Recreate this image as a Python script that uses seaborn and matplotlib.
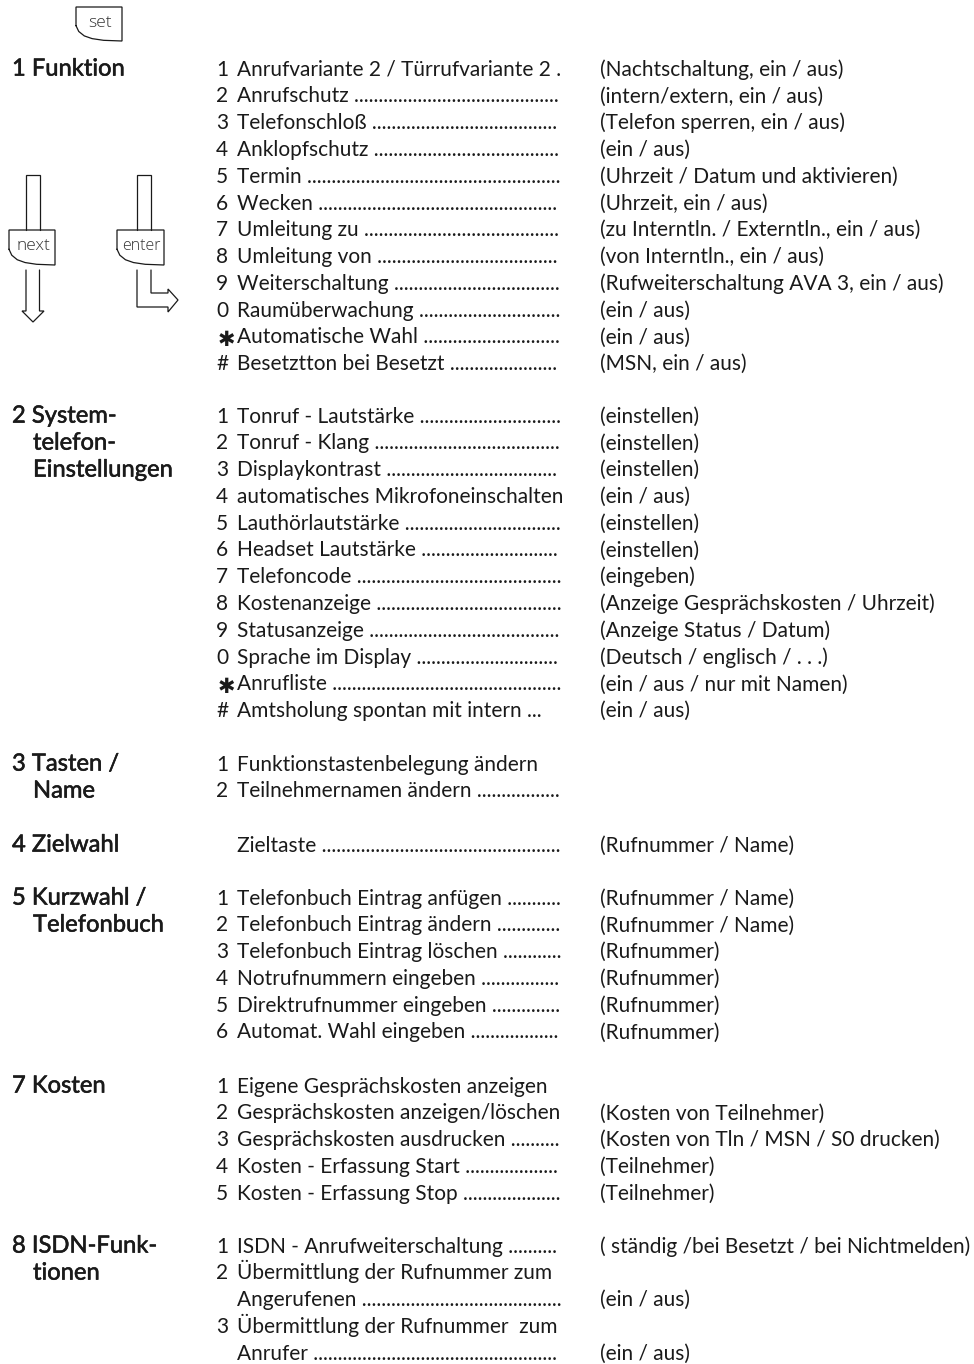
import matplotlib.pyplot as plt
import matplotlib.patheffects as pe
import seaborn as sns

# menu texts, one small list per section
funktion_head = ['1 Funktion']
funktion_nums = ['1', '2', '3', '4', '5', '6', '7', '8', '9', '0', '*', '#']
funktion_items = ['Anrufvariante 2 / Türrufvariante 2 .', 'Anrufschutz ~', 'Telefonschloß ~', 'Anklopfschutz ~',
                  'Termin ~', 'Wecken ~', 'Umleitung zu ~', 'Umleitung von ~', 'Weiterschaltung ~',
                  'Raumüberwachung ~', 'Automatische Wahl ~', 'Besetztton bei Besetzt ~']
funktion_opts = ['(Nachtschaltung, ein / aus)', '(intern/extern, ein / aus)', '(Telefon sperren, ein / aus)',
                 '(ein / aus)', '(Uhrzeit / Datum und aktivieren)', '(Uhrzeit, ein / aus)',
                 '(zu Interntln. / Externtln., ein / aus)', '(von Interntln., ein / aus)',
                 '(Rufweiterschaltung AVA 3, ein / aus)', '(ein / aus)', '(ein / aus)', '(MSN, ein / aus)']

system_head = ['2 System-', 'telefon-', 'Einstellungen']
system_nums = ['1', '2', '3', '4', '5', '6', '7', '8', '9', '0', '*', '#']
system_items = ['Tonruf - Lautstärke ~', 'Tonruf - Klang ~', 'Displaykontrast ~', 'automatisches Mikrofoneinschalten',
                'Lauthörlautstärke ~', 'Headset Lautstärke ~', 'Telefoncode ~', 'Kostenanzeige ~', 'Statusanzeige ~',
                'Sprache im Display ~', 'Anrufliste ~', 'Amtsholung spontan mit intern ...']
system_opts = ['(einstellen)', '(einstellen)', '(einstellen)', '(ein / aus)', '(einstellen)', '(einstellen)',
               '(eingeben)', '(Anzeige Gesprächskosten / Uhrzeit)', '(Anzeige Status / Datum)',
               '(Deutsch / englisch / . . .)', '(ein / aus / nur mit Namen)', '(ein / aus)']

tasten_head = ['3 Tasten /', 'Name']
tasten_nums = ['1', '2']
tasten_items = ['Funktionstastenbelegung ändern', 'Teilnehmernamen ändern ~']
tasten_opts = ['', '']

ziel_head = ['4 Zielwahl']
ziel_nums = ['']
ziel_items = ['Zieltaste ~']
ziel_opts = ['(Rufnummer / Name)']

kurz_head = ['5 Kurzwahl /', 'Telefonbuch']
kurz_nums = ['1', '2', '3', '4', '5', '6']
kurz_items = ['Telefonbuch Eintrag anfügen ~', 'Telefonbuch Eintrag ändern ~', 'Telefonbuch Eintrag löschen ~',
              'Notrufnummern eingeben ~', 'Direktrufnummer eingeben ~', 'Automat. Wahl eingeben ~']
kurz_opts = ['(Rufnummer / Name)', '(Rufnummer / Name)', '(Rufnummer)', '(Rufnummer)', '(Rufnummer)', '(Rufnummer)']

kosten_head = ['7 Kosten']
kosten_nums = ['1', '2', '3', '4', '5']
kosten_items = ['Eigene Gesprächskosten anzeigen', 'Gesprächskosten anzeigen/löschen', 'Gesprächskosten ausdrucken ~',
                'Kosten - Erfassung Start ~', 'Kosten - Erfassung Stop ~']
kosten_opts = ['', '(Kosten von Teilnehmer)', '(Kosten von Tln / MSN / S0 drucken)', '(Teilnehmer)', '(Teilnehmer)']

isdn_head = ['8 ISDN-Funk-', 'tionen']
isdn_nums = ['1', '2', '', '3', '']
isdn_items = ['ISDN - Anrufweiterschaltung ~', 'Übermittlung der Rufnummer zum', 'Angerufenen ~',
              'Übermittlung der Rufnummer  zum', 'Anrufer ~']
isdn_opts = ['( ständig /bei Besetzt / bei Nichtmelden)', '', '(ein / aus)', '', '(ein / aus)']

key_labels = ['set', 'next', 'enter']

sns.set_theme(style='white')
plt.rcParams['font.family'] = ['Lato', 'Open Sans', 'DejaVu Sans']

fig, ax = plt.subplots(figsize=(9.74, 13.64), dpi=100)
fig.subplots_adjust(0, 0, 1, 1)
ax.set_xlim(0, 974)
ax.set_ylim(1364, 0)
sns.despine(ax=ax, left=True, bottom=True)
ax.set_xticks([])
ax.set_yticks([])

INK = '#1a1a1a'
STEP = 26.78
renderer = fig.canvas.get_renderer()


def put(x, y, s, size=15.0, **kw):
    return ax.text(x, y + 7.6, s, fontsize=size, color=INK, va='baseline', **kw)


def item(y, s):
    # '~' stands for the dotted leader, filled up to the right edge of the column
    if not s.endswith('~'):
        put(237, y, s)
        return
    t = put(237, y, s[:-1] + '.')
    while t.get_window_extent(renderer).x1 < 557:
        t.set_text(t.get_text() + '.')


def section(top, head, nums, items, opts):
    for i, h in enumerate(head):
        indent = 12 if i == 0 else 33
        t = put(indent, top + i * 27, h, size=17.1)
        t.set_path_effects([pe.withStroke(linewidth=0.4, foreground=INK)])
    for i, (n, s, o) in enumerate(zip(nums, items, opts)):
        y = top + i * STEP
        if n == '*':
            ax.text(226, y + 10, '✱', fontsize=15, color=INK, ha='center', va='baseline', family='DejaVu Sans')
        elif n:
            put(216, y, n)
        item(y, s)
        if o:
            put(600, y, o)


section(68, funktion_head, funktion_nums, funktion_items, funktion_opts)
section(415, system_head, system_nums, system_items, system_opts)
section(763, tasten_head, tasten_nums, tasten_items, tasten_opts)
section(844, ziel_head, ziel_nums, ziel_items, ziel_opts)
section(897, kurz_head, kurz_nums, kurz_items, kurz_opts)
section(1085, kosten_head, kosten_nums, kosten_items, kosten_opts)
section(1245, isdn_head, isdn_nums, isdn_items, isdn_opts)


def line(xs, ys):
    ax.plot(xs, ys, color=INK, lw=0.9, solid_joinstyle='miter')


def key(x0, x1, y0, y1, label, size):
    # flat top and right side, bottom left corner cut by a curve
    w, h = x1 - x0, y1 - y0
    curve_x = [x0, x0 + 0.06 * w, x0 + 0.18 * w, x0 + 0.35 * w, x0 + 0.6 * w, x1]
    curve_y = [y0 + 0.55 * h, y0 + 0.72 * h, y0 + 0.85 * h, y0 + 0.93 * h, y0 + 0.98 * h, y1]
    line([*curve_x, x1, x0, x0], [*curve_y, y0, y0, curve_y[0]])
    ax.text((x0 + x1) / 2 + 1, (y0 + y1) / 2 - 1, label, fontsize=size, color='#333333', ha='center', va='center',
            family=['Open Sans', 'DejaVu Sans'], fontweight='light')


key(76, 122, 7, 41, key_labels[0], 12.5)
key(9, 55, 230, 265, key_labels[1], 12.5)
key(117, 164, 230, 265, key_labels[2], 11.5)

# shafts above the keys
line([26, 26, 39.5, 39.5], [230, 175, 175, 230])
line([137, 137, 151, 151], [230, 175, 175, 230])

# next: arrow down
line([26, 26, 22, 33, 44, 39.5, 39.5], [270, 311, 311, 322, 311, 311, 270])

# enter: arrow bending to the right
line([137, 137, 168, 168, 178, 168, 168, 151, 151], [270, 307, 307, 312, 300, 289, 293, 293, 270])

fig.savefig('out.png', dpi=100, facecolor='white')
